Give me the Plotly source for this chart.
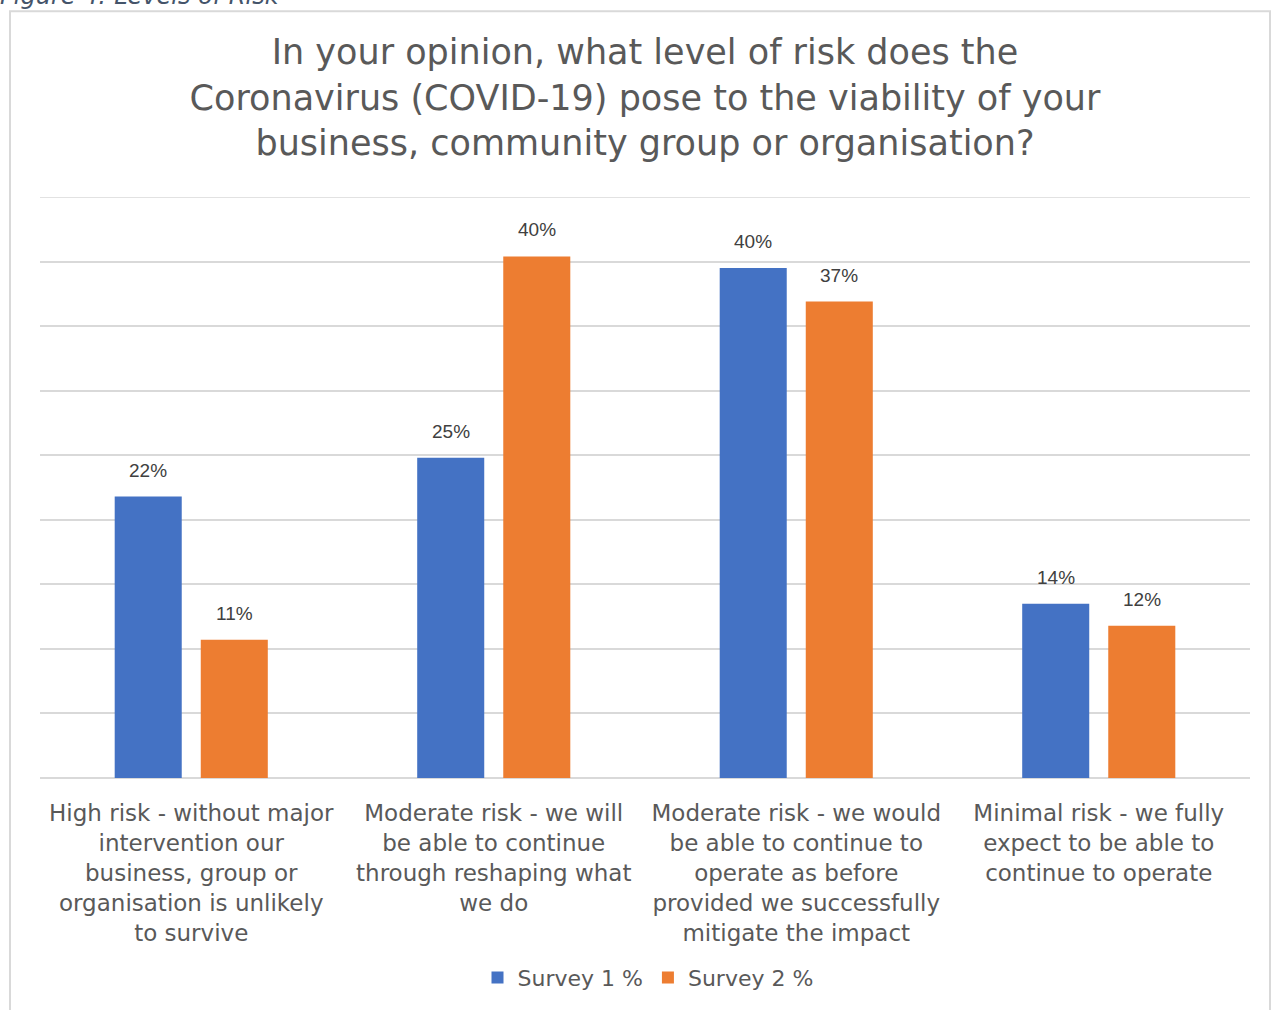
import plotly.graph_objects as go

categories = [
    "High risk - without major<br>intervention our<br>business, group or<br>organisation is unlikely<br>to survive",
    "Moderate risk - we will<br>be able to continue<br>through reshaping what<br>we do",
    "Moderate risk - we would<br>be able to continue to<br>operate as before<br>provided we successfully<br>mitigate the impact",
    "Minimal risk - we fully<br>expect to be able to<br>continue to operate",
]
survey1 = [21.8, 24.8, 39.5, 13.5]
survey2 = [10.7, 40.4, 36.9, 11.8]
survey1_labels = ["22%", "25%", "40%", "14%"]
survey2_labels = ["11%", "40%", "37%", "12%"]
series_names = ["Survey 1 %", "Survey 2 %"]
colors = ["#4472C4", "#ED7D31"]

W, H = 1282, 1010
ML, MR, MT, MB = 40, 32, 197, 228
PW = W - ML - MR
PH = H - MT - MB
YMAX = 45

def px_x(p):
    return (p - ML) / PW

def px_y(p):
    return (H - MB - p) / PH

SANS = "DejaVu Sans, Verdana, sans-serif"

fig = go.Figure()
for name, vals, col in zip(series_names, [survey1, survey2], colors):
    fig.add_trace(go.Bar(x=categories, y=vals, name=name, marker_color=col,
                         marker_line_width=0, hoverinfo="skip"))

annotations = []
for labels, vals, shift in [(survey1_labels, survey1, -43), (survey2_labels, survey2, 43)]:
    for c, v, t in zip(categories, vals, labels):
        annotations.append(dict(x=c, y=v, text=t, showarrow=False, xshift=shift,
                                yanchor="bottom", yshift=14,
                                font=dict(family="Liberation Sans, Arial", size=19, color="#404040")))

annotations.append(dict(xref="paper", yref="paper", x=px_x(-2), y=px_y(11), xanchor="left", yanchor="bottom",
                        text="<i>Figure 4: Levels of Risk</i>", showarrow=False,
                        font=dict(family=SANS, size=24, color="#44546A")))

fig.update_layout(
    width=W, height=H,
    margin=dict(l=ML, r=MR, t=MT, b=MB),
    paper_bgcolor="white", plot_bgcolor="white",
    title=dict(text="In your opinion, what level of risk does the<br>Coronavirus (COVID-19) pose to the viability of your<br>business, community group or organisation?",
               x=645 / W, xanchor="center", y=1 - 64 / H, yanchor="top",
               font=dict(family=SANS, size=35, color="#595959")),
    barmode="group", bargap=0.431, bargroupgap=0.221,
    showlegend=True,
    legend=dict(orientation="h", x=px_x(648), xanchor="center", y=px_y(983), yanchor="middle",
                font=dict(family=SANS, size=22, color="#595959"), itemwidth=30,
                traceorder="normal"),
    annotations=annotations,
    shapes=[
        dict(type="rect", xref="paper", yref="paper", x0=px_x(10), x1=px_x(1270), y0=px_y(1100), y1=px_y(10),
             line=dict(color="#D9D9D9", width=2), fillcolor="rgba(0,0,0,0)", layer="below"),
        dict(type="line", xref="paper", yref="y", x0=0, x1=1, y0=YMAX, y1=YMAX,
             line=dict(color="#D9D9D9", width=1.5), layer="below"),
    ],
)
fig.update_xaxes(showgrid=False, showline=False, ticks="", ticklabelstandoff=19,
                 tickfont=dict(family=SANS, size=23, color="#595959"))
fig.update_yaxes(range=[0, YMAX], dtick=5, showgrid=True, gridcolor="#D9D9D9", gridwidth=1.5,
                 zeroline=True, zerolinecolor="#D9D9D9", zerolinewidth=1.5, showticklabels=False, ticks="")

fig.write_html("out.html")
